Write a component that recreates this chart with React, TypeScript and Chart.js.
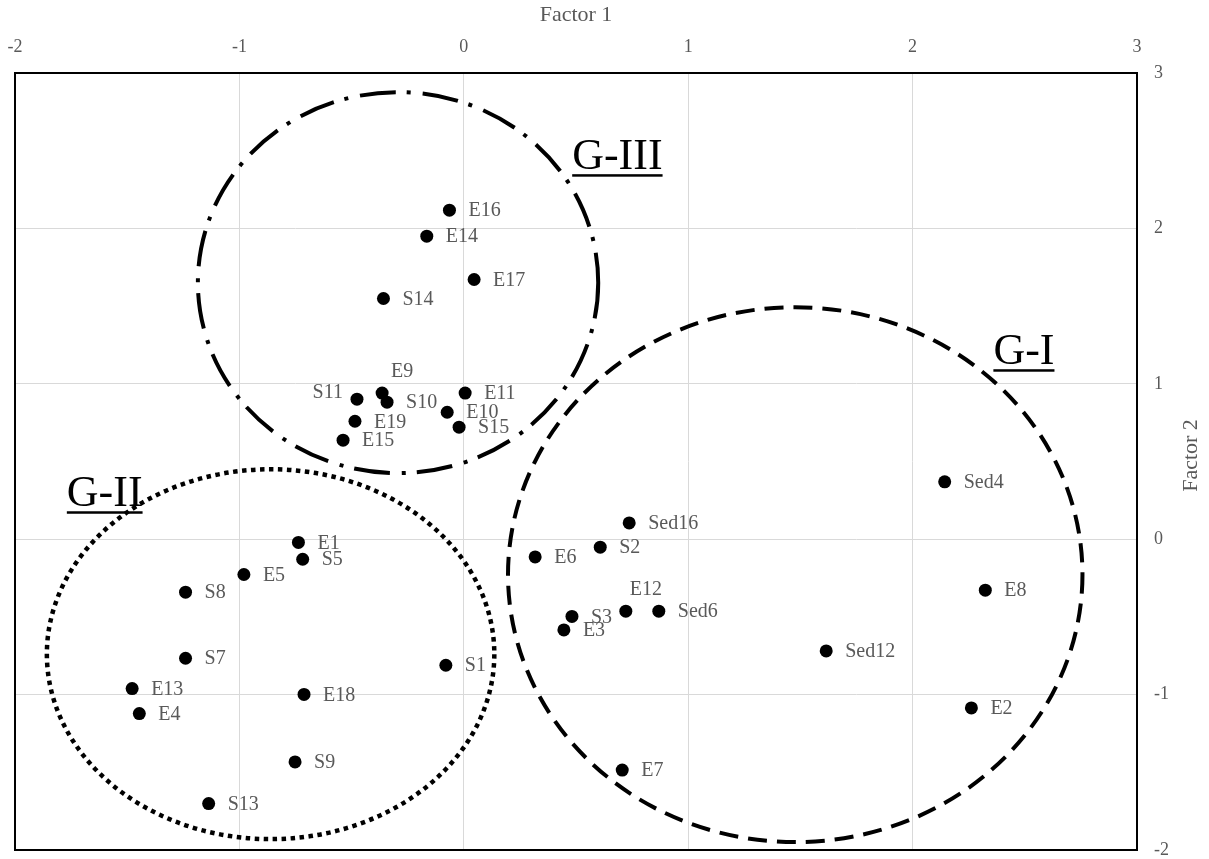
import React, { useEffect, useRef } from 'react';
import { Chart, registerables } from 'chart.js';

Chart.register(...registerables);

// ---- Data ----
const sampleNames = [
  'E16', 'E14', 'E17', 'S14', 'E9', 'S10', 'S11', 'E19', 'E15', 'E11', 'E10', 'S15',
  'E1', 'S5', 'E5', 'S8', 'S7', 'S1', 'E13', 'E18', 'E4', 'S9', 'S13',
  'Sed16', 'S2', 'E6', 'E12', 'Sed6', 'S3', 'E3', 'Sed12', 'E7', 'Sed4', 'E8', 'E2',
];
const factor1 = [
  -0.064, -0.165, 0.046, -0.358, -0.364, -0.342, -0.476, -0.485, -0.538, 0.006, -0.074, -0.021,
  -0.737, -0.718, -0.980, -1.240, -1.240, -0.080, -1.478, -0.712, -1.446, -0.752, -1.137,
  0.737, 0.608, 0.318, 0.722, 0.869, 0.482, 0.446, 1.615, 0.706, 2.143, 2.324, 2.262,
];
const factor2 = [
  2.117, 1.950, 1.671, 1.549, 0.940, 0.882, 0.901, 0.759, 0.637, 0.940, 0.817, 0.721,
  -0.021, -0.129, -0.227, -0.341, -0.766, -0.811, -0.961, -0.999, -1.122, -1.433, -1.701,
  0.105, -0.051, -0.114, -0.463, -0.463, -0.497, -0.584, -0.719, -1.486, 0.369, -0.328, -1.086,
];
// where each data label sits relative to its point
const labelSide = [
  'right', 'right', 'right', 'right', 'above', 'right', 'left', 'right', 'right', 'right', 'right', 'right',
  'right', 'right', 'right', 'right', 'right', 'right', 'right', 'right', 'right', 'right', 'right',
  'right', 'right', 'right', 'above', 'right', 'right', 'right', 'right', 'right', 'right', 'right', 'right',
];

const xTicks = [-2, -1, 0, 1, 2, 3];
const yTicks = [-2, -1, 0, 1, 2, 3];

// group outlines (ellipses in data units)
const groupNames = ['G-I', 'G-II', 'G-III'];
const groupCx = [1.477, -0.861, -0.293];
const groupCy = [-0.228, -0.740, 1.651];
const groupRx = [1.280, 0.997, 0.892];
const groupRy = [1.721, 1.190, 1.226];
const groupStyle = ['dash', 'dot', 'dashdot'];
const groupLabelX = [2.360, -1.769, 0.483];
const groupLabelY = [1.126, 0.212, 2.381];

const SERIF = '"Liberation Serif", "Times New Roman", serif';
const GRAY = '#595959';

const overlayPlugin = {
  id: 'overlay',
  beforeDatasetsDraw(chart: any) {
    const { ctx, chartArea, scales } = chart;
    const xs = scales.x;
    const ys = scales.y;
    ctx.save();
    // plot border
    ctx.strokeStyle = '#000';
    ctx.lineWidth = 2;
    ctx.strokeRect(chartArea.left, chartArea.top, chartArea.right - chartArea.left, chartArea.bottom - chartArea.top);
    // group ellipses
    for (let i = 0; i < groupNames.length; i++) {
      const cx = xs.getPixelForValue(groupCx[i]);
      const cy = ys.getPixelForValue(groupCy[i]);
      const rx = Math.abs(xs.getPixelForValue(groupCx[i] + groupRx[i]) - cx);
      const ry = Math.abs(ys.getPixelForValue(groupCy[i] + groupRy[i]) - cy);
      ctx.beginPath();
      ctx.lineWidth = 4;
      ctx.strokeStyle = '#000';
      ctx.lineCap = 'butt';
      if (groupStyle[i] === 'dash') {
        ctx.setLineDash([19, 10]);
      } else if (groupStyle[i] === 'dot') {
        ctx.setLineDash([4.5, 4.5]);
        ctx.lineWidth = 4.5;
      } else {
        ctx.setLineDash([36, 11, 4, 12]);
      }
      ctx.ellipse(cx, cy, rx, ry, 0, 0, Math.PI * 2);
      ctx.stroke();
    }
    ctx.setLineDash([]);
    // group labels
    ctx.font = `44px ${SERIF}`;
    ctx.fillStyle = '#000';
    ctx.textBaseline = 'alphabetic';
    ctx.textAlign = 'left';
    for (let i = 0; i < groupNames.length; i++) {
      const lx = xs.getPixelForValue(groupLabelX[i]);
      const ly = ys.getPixelForValue(groupLabelY[i]);
      ctx.fillText(groupNames[i], lx, ly);
      const w = ctx.measureText(groupNames[i]).width;
      ctx.fillRect(lx, ly + 5, w, 2.5);
    }
    ctx.restore();
  },
  afterDatasetsDraw(chart: any) {
    const { ctx, scales, chartArea } = chart;
    const xs = scales.x;
    const ys = scales.y;
    ctx.save();
    ctx.font = `20px ${SERIF}`;
    ctx.fillStyle = GRAY;
    ctx.textBaseline = 'middle';
    for (let i = 0; i < sampleNames.length; i++) {
      const px = xs.getPixelForValue(factor1[i]);
      const py = ys.getPixelForValue(factor2[i]);
      const side = labelSide[i];
      if (side === 'left') {
        ctx.textAlign = 'right';
        ctx.fillText(sampleNames[i], px - 14, py - 6);
      } else if (side === 'above') {
        ctx.textAlign = 'center';
        ctx.fillText(sampleNames[i], px + 20, py - 21);
      } else {
        ctx.textAlign = 'left';
        ctx.fillText(sampleNames[i], px + 19, py + 1);
      }
    }
    // right-hand axis title, reading bottom-to-top
    ctx.translate(1191, (chartArea.top + chartArea.bottom) / 2 - 6);
    ctx.rotate(-Math.PI / 2);
    ctx.textAlign = 'center';
    ctx.font = `22px ${SERIF}`;
    ctx.fillText('Factor 2', 0, 0);
    ctx.restore();
  },
};

export default function App() {
  const canvasRef = useRef<HTMLCanvasElement | null>(null);

  useEffect(() => {
    const canvas = canvasRef.current;
    if (!canvas) return;
    const chart = new Chart(canvas, {
      type: 'scatter',
      data: {
        datasets: [
          {
            label: 'Samples',
            data: sampleNames.map((_, i) => ({ x: factor1[i], y: factor2[i] })),
            backgroundColor: '#000',
            borderColor: '#000',
            borderWidth: 0,
            pointRadius: 6.5,
            pointHoverRadius: 6.5,
          },
        ],
      },
      options: {
        responsive: false,
        animation: false,
        events: [],
        layout: { padding: { left: 15, right: 0, top: 0, bottom: 9 } },
        plugins: {
          legend: { display: false },
          tooltip: { enabled: false },
        },
        scales: {
          x: {
            type: 'linear',
            position: 'top',
            min: xTicks[0],
            max: xTicks[xTicks.length - 1],
            afterBuildTicks: (s: any) => {
              s.ticks = xTicks.map((v) => ({ value: v }));
            },
            afterFit: (s: any) => {
              s.height = 73;
              s.paddingLeft = 0;
              s.paddingRight = 0;
            },
            grid: { color: '#d9d9d9', lineWidth: 1, drawTicks: false },
            border: { display: false },
            ticks: {
              padding: 15,
              color: GRAY,
              font: { family: SERIF, size: 18 },
              maxRotation: 0,
            },
            title: {
              display: true,
              text: 'Factor 1',
              color: GRAY,
              font: { family: SERIF, size: 22 },
              padding: { top: 2, bottom: 0 },
            },
          },
          y: {
            type: 'linear',
            position: 'right',
            min: yTicks[0],
            max: yTicks[yTicks.length - 1],
            afterBuildTicks: (s: any) => {
              s.ticks = yTicks.map((v) => ({ value: v }));
            },
            afterFit: (s: any) => {
              s.width = 72;
              s.paddingTop = 0;
              s.paddingBottom = 0;
            },
            grid: { color: '#d9d9d9', lineWidth: 1, drawTicks: false },
            border: { display: false },
            ticks: {
              padding: 17,
              color: GRAY,
              font: { family: SERIF, size: 18 },
            },
          },
        },
      },
      plugins: [overlayPlugin],
    });
    return () => chart.destroy();
  }, []);

  return (
    <div style={{ position: 'fixed', left: 0, top: 0, width: 1209, height: 859, background: '#fff' }}>
      <canvas ref={canvasRef} width={1209} height={859} style={{ display: 'block' }} />
    </div>
  );
}
